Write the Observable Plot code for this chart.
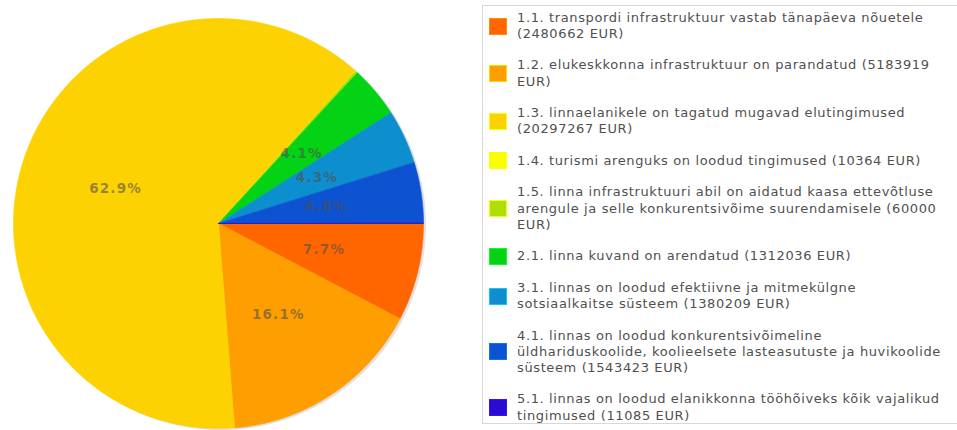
<!DOCTYPE html>
<html><head><meta charset="utf-8">
<script src="https://cdn.jsdelivr.net/npm/d3@7"></script>
<script src="https://cdn.jsdelivr.net/npm/@observablehq/plot@0.6"></script>
<style>
html,body{margin:0;padding:0;background:#fff}
body{width:957px;height:430px;overflow:hidden;position:relative;font-family:"DejaVu Sans",Verdana,sans-serif}
#chart{position:absolute;left:0;top:0}
#legend{position:absolute;left:482px;top:5px;width:490px;height:419px;border:1px solid #d8d8d8;box-sizing:border-box;padding:4px 0 0 6px}
.item{display:flex;align-items:center;margin-bottom:14.9px}
.sw{width:18px;height:17px;flex:none;margin-right:10px;box-sizing:border-box;border:1px solid}
.tx{width:440px;font-size:13px;letter-spacing:0.62px;line-height:16.3px;color:#505050}
</style></head>
<body>
<div id="chart"></div>
<div id="legend"></div>
<script>
const categories = [
  "1.1. transpordi infrastruktuur vastab tänapäeva nõuetele",
  "1.2. elukeskkonna infrastruktuur on parandatud",
  "1.3. linnaelanikele on tagatud mugavad elutingimused",
  "1.4. turismi arenguks on loodud tingimused",
  "1.5. linna infrastruktuuri abil on aidatud kaasa ettevõtluse arengule ja selle konkurentsivõime suurendamisele",
  "2.1. linna kuvand on arendatud",
  "3.1. linnas on loodud efektiivne ja mitmekülgne sotsiaalkaitse süsteem",
  "4.1. linnas on loodud konkurentsivõimeline üldhariduskoolide, koolieelsete lasteasutuste ja huvikoolide süsteem",
  "5.1. linnas on loodud elanikkonna tööhõiveks kõik vajalikud tingimused"
];
const amounts = [2480662, 5183919, 20297267, 10364, 60000, 1312036, 1380209, 1543423, 11085];
const colors = ["#FF6600", "#FF9E01", "#FCD202", "#F8FF01", "#B0DE09", "#04D215", "#0D8ECF", "#0D52D1", "#2A0CD0"];

const data = categories.map((c, i) => ({cat: c, value: amounts[i]}));
const total = d3.sum(amounts);
const arcs = d3.pie().sort(null).value(d => d.value).startAngle(Math.PI / 2).endAngle(Math.PI / 2 + 2 * Math.PI)(data);

// slice outlines (unit radius, y up)
const pts = [];
for (const a of arcs) {
  const n = Math.max(2, Math.ceil((a.endAngle - a.startAngle) / 0.005));
  pts.push({cat: a.data.cat, x: 0, y: 0});
  for (let k = 0; k <= n; k++) {
    const t = a.startAngle + (a.endAngle - a.startAngle) * k / n;
    pts.push({cat: a.data.cat, x: Math.sin(t), y: Math.cos(t)});
  }
  pts.push({cat: a.data.cat, x: 0, y: 0});
}
const rim = d3.range(0, 721).map(k => ({x: Math.sin(k * Math.PI / 360), y: Math.cos(k * Math.PI / 360)}));

const labels = arcs.filter(a => a.data.value / total >= 0.01).map(a => {
  const m = (a.startAngle + a.endAngle) / 2;
  return {x: 0.53 * Math.sin(m), y: 0.53 * Math.cos(m), text: (a.data.value / total * 100).toFixed(1) + "%"};
});

const R = 205, cx = 218, cy = 223, W = 470, H = 430;
const chart = Plot.plot({
  width: W, height: H, margin: 0,
  x: {domain: [-cx / R, (W - cx) / R], axis: null},
  y: {domain: [-(H - cy) / R, cy / R], axis: null},
  color: {domain: categories, range: colors},
  style: {background: "transparent"},
  marks: [
    Plot.line(rim, {x: "x", y: "y", fill: "#888", fillOpacity: 0.25, stroke: "none", dx: 2.5, dy: 1.5}),
    Plot.line(pts, {x: "x", y: "y", z: "cat", fill: "cat", stroke: "cat", strokeWidth: 0.6, curve: "linear"}),
    Plot.text(labels, {x: "x", y: "y", text: "text", fill: "#50504a", fillOpacity: 0.6, fontSize: 13.5, fontWeight: "bold", fontFamily: "DejaVu Sans"})
  ]
});
document.getElementById("chart").appendChild(chart);
chart.querySelectorAll("text").forEach(t => t.setAttribute("letter-spacing", "1.2"));

const legend = document.getElementById("legend");
categories.forEach((c, i) => {
  const item = document.createElement("div");
  item.className = "item";
  const sw = document.createElement("div");
  sw.className = "sw";
  sw.style.background = colors[i];
  sw.style.borderColor = d3.color(colors[i]).brighter(0.9).formatHex();
  const tx = document.createElement("div");
  tx.className = "tx";
  tx.textContent = `${c} (${amounts[i]} EUR)`;
  item.appendChild(sw); item.appendChild(tx);
  legend.appendChild(item);
});
</script>
</body></html>
